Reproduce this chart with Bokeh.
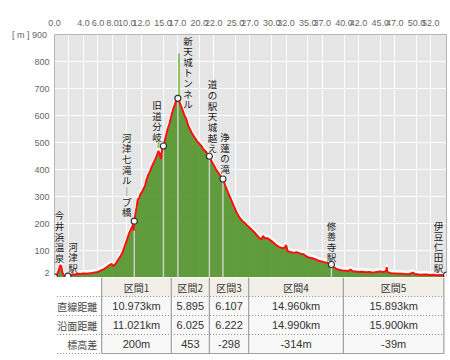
from bokeh.plotting import figure
from bokeh.models import Range1d, FixedTicker, Label, NumeralTickFormatter
from bokeh.layouts import column
from bokeh.embed import file_html
from bokeh.resources import INLINE
from bokeh.core.properties import value

# ---------------- data ----------------
dist_km = [0.0, 0.3, 0.6, 0.8, 0.95, 1.1, 1.3, 1.6, 1.85, 2.2, 2.5, 2.8, 3.2, 3.6, 4.0, 4.5,
           5.0, 5.5, 6.0, 6.4, 6.8, 7.2, 7.6, 7.9, 8.2, 8.5, 8.8, 9.1, 9.4, 9.7, 10.0, 10.3,
           10.6, 10.85, 10.95, 11.021, 11.2, 11.35, 11.5, 11.7, 11.9, 12.1, 12.3, 12.5, 12.7,
           12.9, 13.2, 13.5, 13.8, 14.1, 14.35, 14.5, 14.7, 14.85, 15.05, 15.3, 15.6, 15.9,
           16.2, 16.5, 16.8, 17.046, 17.3, 17.6, 17.9, 18.2, 18.5, 18.8, 19.1, 19.4, 19.7,
           20.0, 20.3, 20.6, 20.9, 21.2, 21.4, 21.7, 22.0, 22.3, 22.6, 22.9, 23.268, 23.6,
           24.0, 24.4, 24.8, 25.2, 25.6, 26.0, 26.3, 26.7, 27.1, 27.5, 27.9, 28.3, 28.6, 28.8,
           29.1, 29.4, 29.8, 30.2, 30.6, 31.0, 31.5, 31.8, 32.0, 32.2, 32.6, 33.0, 33.5, 34.0,
           34.4, 34.8, 35.2, 35.6, 36.0, 36.5, 37.0, 37.5, 38.0, 38.258, 38.6, 39.0, 39.4,
           39.8, 40.2, 40.6, 40.9, 41.2, 41.6, 42.0, 42.5, 43.0, 43.5, 44.0, 44.5, 45.0, 45.4,
           45.8, 45.9, 46.0, 46.5, 47.0, 47.5, 48.0, 48.5, 49.0, 49.5, 49.8, 50.3, 50.8, 51.3,
           51.8, 52.3, 52.8, 53.3, 53.8, 54.158]
elev_m = [4, 10, 30, 48, 42, 20, 8, 6, 7, 8, 14, 12, 16, 15, 17, 16,
          18, 20, 22, 28, 32, 40, 48, 52, 44, 55, 68, 80, 95, 118, 140, 165,
          182, 198, 175, 210, 240, 262, 290, 295, 312, 318, 330, 340, 362,
          378, 395, 415, 432, 450, 470, 462, 440, 470, 488, 515, 548, 572,
          605, 632, 655, 664, 648, 628, 605, 588, 562, 545, 530, 518, 505,
          497, 488, 475, 468, 455, 450, 432, 418, 402, 390, 378, 366, 342,
          315, 290, 265, 240, 222, 210, 203, 192, 182, 172, 160, 148, 143, 156,
          146, 148, 140, 132, 122, 115, 110, 112, 122, 100, 96, 93, 95, 90,
          88, 80, 75, 73, 70, 64, 60, 57, 54, 50, 40, 33, 30,
          28, 27, 26, 31, 25, 24, 22, 23, 21, 22, 20, 22, 24, 22,
          25, 40, 22, 18, 17, 16, 16, 14, 14, 20, 15, 13, 12, 13,
          11, 12, 10, 11, 10, 11]

spike_km = [14.38, 17.2]
spike_base = [470, 650]
spike_top = [505, 830]

wp_names = ["今井浜温泉", "河津駅", "河津七滝ループ橋", "旧道分岐", "新天城トンネル",
            "道の駅天城越え", "浄蓮の滝", "修善寺駅", "伊豆仁田駅"]
wp_km = [0.0, 1.85, 11.021, 15.05, 17.046, 21.4, 23.268, 38.258, 54.158]
wp_elev = [4, 7, 210, 488, 664, 450, 366, 50, 11]

sections = ["区間1", "区間2", "区間3", "区間4", "区間5"]
straight = ["10.973km", "5.895", "6.107", "14.960km", "15.893km"]
surface = ["11.021km", "6.025", "6.222", "14.990km", "15.900km"]
height_diff = ["200m", "453", "-298", "-314m", "-39m"]
surface_km = [11.021, 6.025, 6.222, 14.990, 15.900]
row_labels = ["直線距離", "沿面距離", "標高差"]

y_ticks = [2, 100, 200, 300, 400, 500, 600, 700, 800, 900]
x_ticks = [0, 4, 6, 8, 10, 12, 15, 17, 20, 22, 25, 27, 30, 32, 35, 37, 40, 42, 45, 47, 50, 52]
x_grid = [0, 2, 4, 6, 8, 10, 12, 15, 17, 20, 22, 25, 27, 30, 32, 35, 37, 40, 42, 45, 47, 50, 52]

# ---------------- layout constants ----------------
total = sum(surface_km)
FW, FH = 392, 243
LB, TB, RB = 54, 34, 3
W = LB + FW + RB
H1 = TB + FH
Y0, Y1 = 2, 900
xs = FW / total          # px per km
ys = FH / (Y1 - Y0)      # px per m

AX_FONT = "Liberation Sans"
JP_FONT = "Noto Sans CJK JP"

# ---------------- profile plot ----------------
p = figure(width=W, height=H1, x_range=Range1d(0, total), y_range=Range1d(Y0, Y1),
           x_axis_location="above", toolbar_location=None, output_backend="svg",
           min_border_left=LB, min_border_right=RB, min_border_top=TB, min_border_bottom=0)
p.background_fill_color = "#e6e6e6"
p.border_fill_color = "white"
p.outline_line_color = "#b5b5b5"

p.xgrid.ticker = FixedTicker(ticks=x_grid)
p.ygrid.ticker = FixedTicker(ticks=y_ticks[1:])
for g in (p.xgrid, p.ygrid):
    g.grid_line_color = "white"
    g.grid_line_alpha = 0.9
    g.grid_line_width = 1

p.xaxis.ticker = FixedTicker(ticks=x_ticks)
p.xaxis.formatter = NumeralTickFormatter(format="0.0")
p.yaxis.ticker = FixedTicker(ticks=y_ticks)
p.yaxis.major_label_overrides = {900: "[ m ]  900"}
for ax in (p.xaxis, p.yaxis):
    ax.axis_line_color = None
    ax.major_tick_line_color = None
    ax.minor_tick_line_color = None
    ax.major_tick_out = 0
    ax.major_tick_in = 0
    ax.major_label_text_font = AX_FONT
    ax.major_label_text_font_size = "9px"
    ax.major_label_text_color = "#666666"
p.xaxis.major_label_standoff = 9
p.yaxis.major_label_standoff = 5

p.add_layout(Label(x=total, x_units="data", y=FH + TB - 3, y_units="screen", x_offset=2,
                   text="[ km ]", text_align="right", text_baseline="top",
                   text_font=AX_FONT, text_font_size="9px", text_color="#666666"))

p.varea(x=dist_km, y1=0, y2=elev_m, fill_color="#55952e", fill_alpha=0.92)
p.segment(x0=spike_km, y0=spike_base, x1=spike_km, y1=spike_top, line_color="#8dc460", line_width=2)
p.segment(x0=wp_km, y0=[0] * len(wp_km), x1=wp_km, y1=wp_elev, line_color="#d6d6d6",
          line_width=1.5, line_alpha=0.9)
p.line(dist_km, [e + 2.5 / ys for e in elev_m], line_color="white", line_width=2)
p.line(dist_km, elev_m, line_color="#ff1010", line_width=2)
p.scatter(wp_km, wp_elev, size=6, fill_color="white", line_color="#333333", line_width=1.2)

# vertical waypoint labels (pixel offsets from their point)
lab_dx = [5, 5, -7.5, -6.5, 10, 3, 2, 0, -8]
lab_gap = [12, 1, 2, 2, -13, 1, 3, 0, 0]
lab_x = [k + dx / xs for k, dx in zip(wp_km, lab_dx)]
lab_y = [e + g / ys for e, g in zip(wp_elev, lab_gap)]
lab_txt = ["\n".join(n.replace("ー", "｜")) for n in wp_names]
p.text(x=lab_x, y=lab_y, text=lab_txt, text_align="center", text_baseline="bottom",
       text_font=value(JP_FONT), text_font_size="9.5px", text_color="#1a1a1a",
       text_line_height=0.76)

# ---------------- table ----------------
H2 = 360 - 3 - H1
rows = [0, 19, 38, 57, 76]
bounds = [0.0]
for s in surface_km:
    bounds.append(bounds[-1] + s)
mids = [(a + b) / 2 for a, b in zip(bounds[:-1], bounds[1:])]

t = figure(width=W, height=H2, x_range=Range1d(-LB / xs, total + RB / xs),
           y_range=Range1d(H2, 0), x_axis_location=None, y_axis_location=None,
           toolbar_location=None, output_backend="svg",
           min_border_left=0, min_border_right=0, min_border_top=0, min_border_bottom=0)
t.grid.visible = False
t.outline_line_color = None
t.background_fill_color = "white"
t.border_fill_color = "white"

t.quad(left=bounds[:-1], right=bounds[1:], top=rows[0], bottom=rows[1],
       fill_color="#f2eee8", line_color=None)
t.quad(left=[0], right=[total], top=rows[1], bottom=rows[4], fill_color="#f8f8f8", line_color=None)

left_edge = -(LB - 3) / xs
t.segment(x0=[left_edge] * 3, y0=rows[1:4], x1=[total] * 3, y1=rows[1:4],
          line_color="#8a8a8a", line_dash="1 2", line_width=1)
t.segment(x0=[left_edge], y0=[rows[4]], x1=[0], y1=[rows[4]],
          line_color="#8a8a8a", line_dash="1 2", line_width=1)
t.segment(x0=[0], y0=[rows[4]], x1=[total], y1=[rows[4]], line_color="#a0a0a0", line_width=1)
t.segment(x0=bounds, y0=[rows[0]] * len(bounds), x1=bounds, y1=[rows[4]] * len(bounds),
          line_color="#a0a0a0", line_width=1.2)

row_mid = [(a + b) / 2 for a, b in zip(rows[:-1], rows[1:])]
t.text(x=mids, y=[row_mid[0]] * 5, text=sections, text_align="center", text_baseline="middle",
       text_font=value(JP_FONT), text_font_size="10px", text_color="#333333")
for r, vals in zip(row_mid[1:], [straight, surface, height_diff]):
    t.text(x=mids, y=[r] * 5, text=vals, text_align="center", text_baseline="middle",
           text_font=value(AX_FONT), text_font_size="11px", text_color="#333333")
t.text(x=[-5 / xs] * 3, y=row_mid[1:], text=row_labels, text_align="right", text_baseline="middle",
       text_font=value(JP_FONT), text_font_size="10px", text_color="#444444")

layout = column(p, t, spacing=0)
open("out.html", "w").write(file_html(layout, INLINE))
